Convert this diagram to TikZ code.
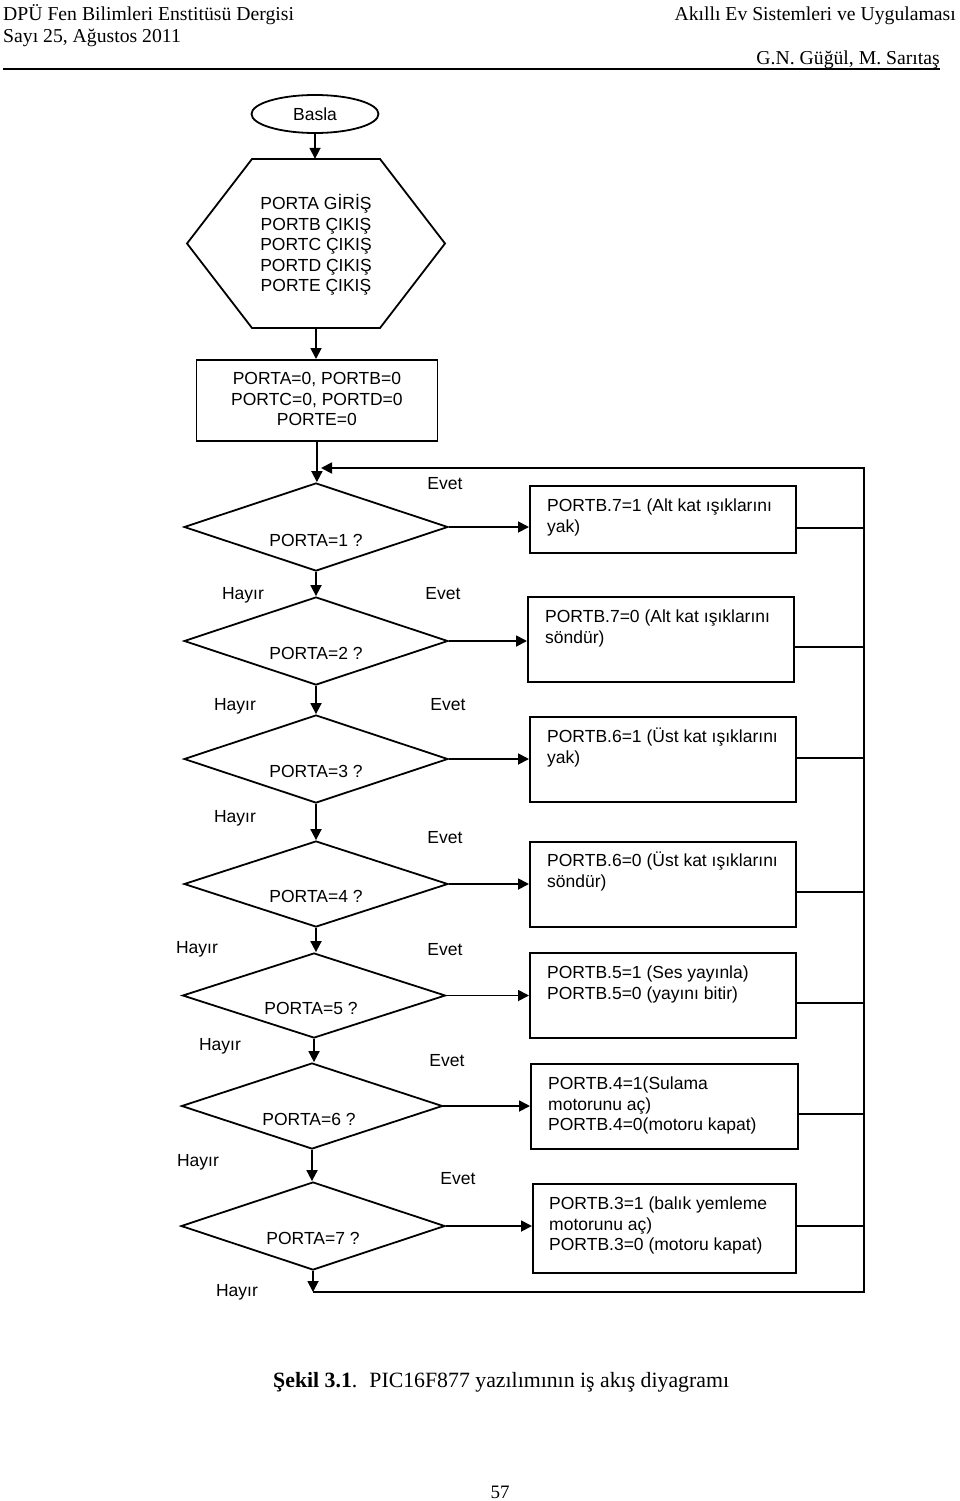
\documentclass[tikz,border=0pt]{standalone}
\usepackage{fontspec}
\setmainfont{Liberation Serif}
\newfontfamily\arialf{Liberation Sans}
\usetikzlibrary{shapes.geometric,arrows.meta}
\begin{document}
\begin{tikzpicture}[x=1pt,y=-1pt,
  ln/.style={line width=1.8pt},
  arr/.style={ln,-{Triangle[length=11pt,width=11pt]}},
  boxnode/.style={draw,ln,inner sep=0pt,anchor=north west},
  dec/.style={draw,ln,diamond,inner sep=0pt,minimum width=264pt,minimum height=88pt},
  sf/.style={font=\arialf\fontsize{17.5}{20.5}\selectfont},
  txt/.style={sf,inner sep=0pt,align=left,anchor=north west},
  ctxt/.style={sf,inner sep=0pt,align=center,anchor=north},
  lbl/.style={sf,inner sep=0pt,anchor=base},
  qtxt/.style={sf,inner sep=0pt,anchor=center},
  hdr/.style={font=\fontsize{19.7}{22}\selectfont,inner sep=0pt},
]
\useasboundingbox (0,0) rectangle (960,1501);

% header
\node[hdr,anchor=base west] (h1) at (3,21) {DPÜ Fen Bilimleri Enstitüsü Dergisi};
\node[hdr,anchor=base west] (h2) at (3,43) {Sayı 25, Ağustos 2011};
\node[hdr,anchor=base east] (h3) at (956,21) {Akıllı Ev Sistemleri ve Uygulaması};
\node[hdr,anchor=base east] (h4) at (940,65) {G.N. Güğül, M. Sarıtaş};
\coordinate (rl) at (3,69);
\coordinate (rr) at (940,69);
\draw[line width=1.2pt] (rl) -- (rr);

% start
\node[draw,ln,ellipse,inner sep=0pt,minimum width=127pt,minimum height=38pt,sf] (basla) at (315,114) {Basla};

% hexagon
\node[inner sep=0pt,minimum width=258pt,minimum height=169pt] (hex) at (316,243.5) {};
\draw[ln] (252,159) -- (380,159) -- (445,243.5) -- (380,328) -- (252,328) -- (187,243.5) -- cycle;
\node[ctxt] (hext) at (316,202.5-8) {\strut PORTA GİRİŞ\\PORTB ÇIKIŞ\\PORTC ÇIKIŞ\\PORTD ÇIKIŞ\\PORTE ÇIKIŞ};

% init box
\node[boxnode,minimum width=241pt,minimum height=81pt] (init) at (195.5,359) {};
\node[ctxt] (initt) at (init.north |- 0,378-8) {\strut PORTA=0, PORTB=0\\PORTC=0, PORTD=0\\PORTE=0};

% decisions
\node[dec] (d1) at (316,527) {};
\node[dec] (d2) at (316,641) {};
\node[dec] (d3) at (316,759) {};
\node[dec,minimum height=86pt] (d4) at (316,884) {};
\node[dec,minimum width=263pt,minimum height=85pt] (d5) at (314,995.5) {};
\node[dec,minimum width=261pt,minimum height=86pt] (d6) at (312,1106) {};
\node[dec] (d7) at (313,1226) {};

\node[qtxt] (q1) at (316,540) {PORTA=1 ?};
\node[qtxt] (q2) at (316,653) {PORTA=2 ?};
\node[qtxt] (q3) at (316,771) {PORTA=3 ?};
\node[qtxt] (q4) at (316,896) {PORTA=4 ?};
\node[qtxt] (q5) at (311,1008) {PORTA=5 ?};
\node[qtxt] (q6) at (309,1119) {PORTA=6 ?};
\node[qtxt] (q7) at (313,1238) {PORTA=7 ?};

% action boxes
\node[boxnode,minimum width=266pt,minimum height=67pt] (b1) at (529,485) {};
\node[boxnode,minimum width=266pt,minimum height=85pt] (b2) at (527,596) {};
\node[boxnode,minimum width=266pt,minimum height=85pt] (b3) at (529,716) {};
\node[boxnode,minimum width=266pt,minimum height=85pt] (b4) at (529,841) {};
\node[boxnode,minimum width=266pt,minimum height=85pt] (b5) at (529,952) {};
\node[boxnode,minimum width=267pt,minimum height=85pt] (b6) at (530,1063) {};
\node[boxnode,minimum width=263pt,minimum height=89pt] (b7) at (532,1183) {};

\node[txt] (t1) at (547,505-8) {\strut PORTB.7=1 (Alt kat ışıklarını\\yak)};
\node[txt] (t2) at (545,616-8) {\strut PORTB.7=0 (Alt kat ışıklarını\\söndür)};
\node[txt] (t3) at (547,736-8) {\strut PORTB.6=1 (Üst kat ışıklarını\\yak)};
\node[txt] (t4) at (547,860-8) {\strut PORTB.6=0 (Üst kat ışıklarını\\söndür)};
\node[txt] (t5) at (547,972-8) {\strut PORTB.5=1 (Ses yayınla)\\PORTB.5=0 (yayını bitir)};
\node[txt] (t6) at (548,1083-8) {\strut PORTB.4=1(Sulama\\motorunu aç)\\PORTB.4=0(motoru kapat)};
\node[txt] (t7) at (549,1203-8) {\strut PORTB.3=1 (balık yemleme\\motorunu aç)\\PORTB.3=0 (motoru kapat)};

% labels
\node[lbl] (e1) at (445,483+6) {Evet};
\node[lbl] (n2) at (243,593+6) {Hayır};
\node[lbl] (e2) at (443,593+6) {Evet};
\node[lbl] (n3) at (235,704+6) {Hayır};
\node[lbl] (e3) at (448,704+6) {Evet};
\node[lbl] (n4) at (235,816+6) {Hayır};
\node[lbl] (e4) at (445,837+6) {Evet};
\node[lbl] (n5) at (197,947+6) {Hayır};
\node[lbl] (e5) at (445,949+6) {Evet};
\node[lbl] (n6) at (220,1044+6) {Hayır};
\node[lbl] (e6) at (447,1060+6) {Evet};
\node[lbl] (n7) at (198,1160+6) {Hayır};
\node[lbl] (e7) at (458,1178+6) {Evet};
\node[lbl] (n8) at (237,1290+6) {Hayır};

% coordinates for loop
\coordinate (ret) at (321,468);
\coordinate (rt) at (864,468);
\coordinate (rb) at (864,1292);

% main flow
\draw[arr] (basla.south) -- (basla.south |- hex.north);
\draw[arr] (hex.south) -- (hex.south |- init.north);
\draw[arr] (init.south) -- (init.south |- d1.north);
\draw[arr] (d1.south) -- (d1.south |- d2.north);
\draw[arr] (d2.south) -- (d2.south |- d3.north);
\draw[arr] (d3.south) -- (d3.south |- d4.north);
\draw[arr] (d4.south) -- (d4.south |- d5.north);
\draw[arr] (d5.south) -- (d5.south |- d6.north);
\draw[arr] (d6.south) -- (d6.south |- d7.north);
\coordinate (bot) at (d7.south |- rb);
\draw[arr] (d7.south) -- (bot);
\draw[arr] (bot) -- (rb) -- (rt) -- (ret);

% yes branches
\draw[arr] (d1.east) -- (d1.east -| b1.west);
\draw[arr] (d2.east) -- (d2.east -| b2.west);
\draw[arr] (d3.east) -- (d3.east -| b3.west);
\draw[arr] (d4.east) -- (d4.east -| b4.west);
\draw[arr] (d5.east) -- (d5.east -| b5.west);
\draw[arr] (d6.east) -- (d6.east -| b6.west);
\draw[arr] (d7.east) -- (d7.east -| b7.west);

% returns
\draw[ln] (b1.east |- 0,528) -- (rt |- 0,528);
\draw[ln] (b2.east |- 0,647) -- (rt |- 0,647);
\draw[ln] (b3.east |- 0,758) -- (rt |- 0,758);
\draw[ln] (b4.east |- 0,892) -- (rt |- 0,892);
\draw[ln] (b5.east |- 0,1003) -- (rt |- 0,1003);
\draw[ln] (b6.east |- 0,1114) -- (rt |- 0,1114);
\draw[ln] (b7.east |- 0,1226) -- (rt |- 0,1226);

% caption
\node[font=\fontsize{21.8}{26}\selectfont,inner sep=0pt,anchor=base west] (cap) at (273,1387) {\textbf{Şekil 3.1}.\hspace{0.55em}PIC16F877 yazılımının iş akış diyagramı};
\node[font=\fontsize{19}{22}\selectfont,inner sep=0pt,anchor=base] (pg) at (500,1498) {57};
\end{tikzpicture}
\end{document}
